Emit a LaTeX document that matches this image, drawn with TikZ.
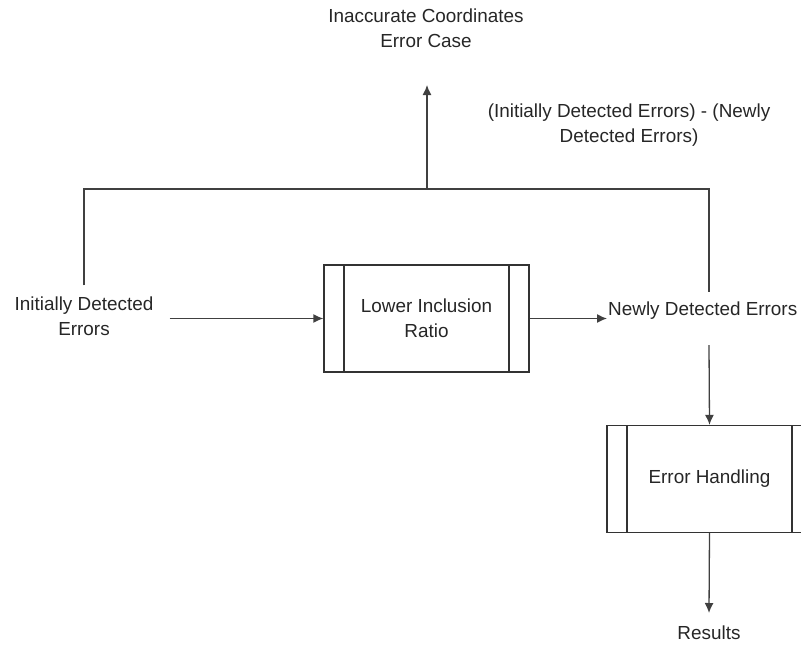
\documentclass[tikz,border=0pt]{standalone}
\usepackage{fontspec}
\setmainfont{Liberation Sans}
\usetikzlibrary{arrows.meta,calc}
\begin{document}
\begin{tikzpicture}[x=1pt,y=-1pt,
  every node/.style={font=\fontsize{18.9}{25}\selectfont, text=black!85, align=center},
  ln/.style={draw=black!75, line width=1.3pt},
  arr/.style={ln,-{Latex[length=10pt,width=9pt]}},
  procbox/.style={draw=black!80, line width=1.3pt, minimum width=205pt, minimum height=107pt, inner sep=0pt,
    path picture={\draw[black!80,line width=1.3pt]
      ([xshift=20pt]path picture bounding box.north west) -- ([xshift=20pt]path picture bounding box.south west)
      ([xshift=-20pt]path picture bounding box.north east) -- ([xshift=-20pt]path picture bounding box.south east);}},
  lbl/.style={inner sep=0pt}
]
\clip (0,0) rectangle (801,646);

% boxes
\node[procbox] (lir) at (426.5,318.5) {Lower Inclusion\\Ratio};
\node[procbox] (eh) at (709.5,479) {Error Handling};

% texts
\node[inner xsep=16pt, inner ysep=11pt] (ide) at (84,316) {Initially Detected\\Errors};
\node[inner xsep=1pt, inner ysep=0pt, anchor=west] (nde) at (607,310.5) {Newly Detected Errors};
\node[lbl] (icc) at (426,28.5) {Inaccurate Coordinates\\Error Case};
\node[lbl] (diff) at (629,125) {(Initially Detected Errors) - (Newly\\Detected Errors)};
\node[inner sep=0pt, anchor=north] (res) at (709,626) {Results};

% coordinates
\coordinate (jl) at (84,189);
\coordinate (jm) at (427,189);
\coordinate (jr) at (709,189);
\coordinate (tipc) at (427,85);
\coordinate (ndet) at (709,292);
\coordinate (ndeb) at (709,345);
\coordinate (rest) at (709,613);

% connectors
\draw[ln] (ide.north) -- (jl) -- (jr) -- (ndet);
\draw[arr] (jm) -- (tipc);
\draw[arr] (ide.east |- lir.west) -- (lir.west);
\draw[arr] (lir.east) -- (lir.east -| nde.west);
\draw[arr] (ndeb) -- (eh.north);
\draw[arr] (eh.south) -- (rest);
\end{tikzpicture}
\end{document}
